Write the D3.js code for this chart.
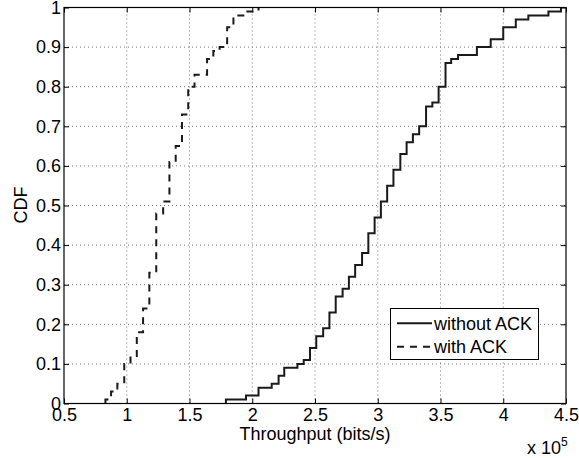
<!DOCTYPE html>
<html>
<head>
<meta charset="utf-8">
<script src="https://cdn.jsdelivr.net/npm/d3@7"></script>
<style>
    body { margin: 0; background: #fff; }
    svg { display: block; font-family: "Liberation Sans", Arial, Helvetica, sans-serif; }
</style>
</head>
<body>
<div id="chart"></div>
<script>
// throughput values are in units of 1e5 bits/s (axis shows "x 10^5")
const xTicks = [0.5, 1, 1.5, 2, 2.5, 3, 3.5, 4, 4.5];
const yTicks = [0, 0.1, 0.2, 0.3, 0.4, 0.5, 0.6, 0.7, 0.8, 0.9, 1];

const withoutAckX = [1.79, 1.95, 2.05, 2.155, 2.21, 2.255, 2.36, 2.41, 2.46, 2.51,
    2.565, 2.615, 2.665, 2.72, 2.77, 2.82, 2.875, 2.925, 2.975, 3.025,
    3.075, 3.125, 3.18, 3.23, 3.28, 3.33, 3.385, 3.435, 3.485, 3.54,
    3.585, 3.64, 3.79, 3.9, 4.0, 4.1, 4.2, 4.36, 4.46];
const withoutAckCdf = [0.01, 0.02, 0.04, 0.05, 0.07, 0.09, 0.10, 0.11, 0.14, 0.17,
    0.19, 0.23, 0.27, 0.29, 0.32, 0.35, 0.38, 0.43, 0.47, 0.51,
    0.55, 0.59, 0.63, 0.66, 0.68, 0.70, 0.75, 0.76, 0.80, 0.86,
    0.87, 0.88, 0.90, 0.92, 0.95, 0.97, 0.98, 0.99, 1.0];

const withAckX = [0.83, 0.875, 0.925, 0.98, 1.03, 1.08, 1.13, 1.18, 1.235, 1.29,
    1.34, 1.39, 1.44, 1.49, 1.54, 1.64, 1.69, 1.74, 1.80, 1.85, 1.94, 2.05];
const withAckCdf = [0.01, 0.03, 0.05, 0.10, 0.12, 0.18, 0.24, 0.33, 0.48, 0.51,
    0.61, 0.65, 0.73, 0.80, 0.83, 0.87, 0.89, 0.90, 0.95, 0.98, 0.99, 1.0];

const seriesNames = ['without ACK', 'with ACK'];

const width = 579;
const height = 458;
const plotLeft = 64, plotRight = 566, plotTop = 7.5, plotBottom = 403.5;
const FONT = 18;

const svg = d3.select('#chart')
    .append('svg')
    .attr('width', width)
    .attr('height', height);

const x = d3.scaleLinear().domain([0.5, 4.5]).range([plotLeft, plotRight]);
const y = d3.scaleLinear().domain([0, 1]).range([plotBottom, plotTop]);

// grid
const grid = svg.append('g')
    .attr('stroke', '#555')
    .attr('stroke-width', 0.8)
    .attr('stroke-dasharray', '1,3');

grid.selectAll('.gx')
    .data(xTicks.slice(1, -1))
    .enter()
    .append('line')
    .attr('x1', d => x(d)).attr('x2', d => x(d))
    .attr('y1', plotBottom).attr('y2', plotTop);

grid.selectAll('.gy')
    .data(yTicks.slice(1, -1))
    .enter()
    .append('line')
    .attr('x1', plotLeft).attr('x2', plotRight)
    .attr('y1', d => y(d)).attr('y2', d => y(d));

// axes, matlab style ticks pointing inward
const fmt = d3.format('');

svg.append('g')
    .attr('transform', `translate(0,${plotBottom})`)
    .call(d3.axisBottom(x).tickValues(xTicks).tickSize(-5).tickPadding(4.5).tickFormat(fmt));

svg.append('g')
    .attr('transform', `translate(${plotLeft},0)`)
    .call(d3.axisLeft(y).tickValues(yTicks).tickSize(-5).tickPadding(3).tickFormat(fmt));

svg.append('g')
    .attr('transform', `translate(0,${plotTop})`)
    .call(d3.axisTop(x).tickValues(xTicks).tickSize(-5).tickFormat(''));

svg.append('g')
    .attr('transform', `translate(${plotRight},0)`)
    .call(d3.axisRight(y).tickValues(yTicks).tickSize(-5).tickFormat(''));

svg.selectAll('.domain').remove();
svg.selectAll('.tick line').attr('stroke', '#000');
svg.selectAll('.tick text')
    .attr('fill', '#000')
    .style('font-size', FONT + 'px')
    .style('font-family', '"Liberation Sans", Arial, sans-serif');

// step lines
const stepLine = d3.line()
    .x(d => x(d[0]))
    .y(d => y(d[1]))
    .curve(d3.curveStepAfter);

function stairs(xs, cdf) {
    const pts = [[xs[0], 0]];
    xs.forEach((v, i) => pts.push([v, cdf[i]]));
    return pts;
}

svg.append('path')
    .attr('d', stepLine(stairs(withoutAckX, withoutAckCdf)))
    .attr('fill', 'none')
    .attr('stroke', '#1a1a1a')
    .attr('stroke-width', 2);

svg.append('path')
    .attr('d', stepLine(stairs(withAckX, withAckCdf)))
    .attr('fill', 'none')
    .attr('stroke', '#1a1a1a')
    .attr('stroke-width', 2)
    .attr('stroke-dasharray', '7,6');

// frame
svg.append('rect')
    .attr('x', plotLeft).attr('y', plotTop)
    .attr('width', plotRight - plotLeft).attr('height', plotBottom - plotTop)
    .attr('fill', 'none')
    .attr('stroke', '#000')
    .attr('stroke-width', 1.2);

// labels
svg.append('text')
    .attr('x', (plotLeft + plotRight) / 2)
    .attr('y', 440)
    .attr('text-anchor', 'middle')
    .style('font-size', FONT + 'px')
    .text('Throughput (bits/s)');

svg.append('text')
    .attr('transform', 'translate(27,205) rotate(-90)')
    .attr('text-anchor', 'middle')
    .style('font-size', FONT + 'px')
    .text('CDF');

const expo = svg.append('text')
    .attr('x', 527)
    .attr('y', 454)
    .style('font-size', FONT + 'px')
    .text('x 10');
expo.append('tspan')
    .attr('dy', -8)
    .style('font-size', '12px')
    .text('5');

// legend
const legend = svg.append('g');
legend.append('rect')
    .attr('x', 390.5).attr('y', 308.5)
    .attr('width', 148).attr('height', 51)
    .attr('fill', '#fff')
    .attr('stroke', '#000')
    .attr('stroke-width', 1);

const rows = legend.selectAll('.row')
    .data(seriesNames)
    .enter()
    .append('g')
    .attr('transform', (d, i) => `translate(0,${323.3 + i * 23.4})`);

rows.append('line')
    .attr('x1', 397).attr('x2', 432)
    .attr('stroke', '#1a1a1a')
    .attr('stroke-width', 2)
    .attr('stroke-dasharray', (d, i) => i === 1 ? '7,6' : null);

rows.append('text')
    .attr('x', 434)
    .attr('dy', '0.35em')
    .style('font-size', FONT + 'px')
    .text(d => d);
</script>
</body>
</html>
